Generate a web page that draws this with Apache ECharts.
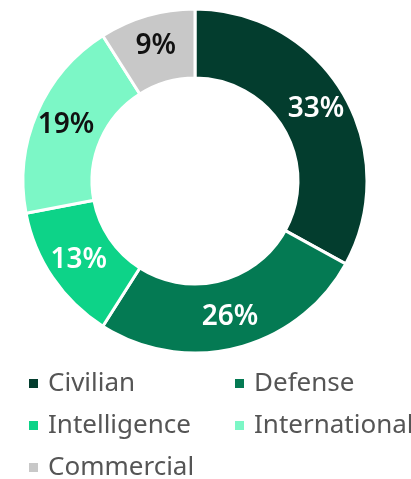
<!DOCTYPE html>
<html><head><meta charset="utf-8">
<script src="https://cdn.jsdelivr.net/npm/echarts@6/dist/echarts.min.js"></script>
<style>html,body{margin:0;padding:0;background:#fff}#c{width:411px;height:479px}</style>
</head><body><div id="c"></div>
<script>
const categories = ['Civilian','Defense','Intelligence','International','Commercial'];
const values = [33, 26, 13, 19, 9];
const colors = ['#033d2e','#047a53','#0dd388','#7cf7c6','#c8c8c8'];
const labelColors = ['#fff','#fff','#fff','#111','#111'];

const chart = echarts.init(document.getElementById('c'), null, {renderer:'canvas'});
const font = 'Noto Sans';
const legendCommon = {
  orient:'vertical', icon:'rect', itemWidth:11, itemHeight:11, itemGap:11,
  height:130, padding:0,
  textStyle:{fontFamily:font, fontSize:26, lineHeight:31, color:'#555', padding:[0,0,0,4]},
  selectedMode:false
};
chart.setOption({
  animation:false,
  legend:[
    Object.assign({left:27, top:368, data:[categories[0],categories[2],categories[4]]}, legendCommon),
    Object.assign({left:233, top:368, data:[categories[1],categories[3]]}, legendCommon)
  ],
  series:[{
    type:'pie', center:[195,181], radius:[103,172], startAngle:90, clockwise:true,
    avoidLabelOverlap:false,
    itemStyle:{borderColor:'#fff', borderWidth:3},
    label:{show:true, position:'inside', fontFamily:font, fontSize:28, fontWeight:600,
      formatter: p => p.value + '%'},
    labelLine:{show:false},
    data: categories.map((n,i)=>({name:n, value:values[i], itemStyle:{color:colors[i]}, label:{color:labelColors[i]}}))
  }]
});
</script></body></html>
